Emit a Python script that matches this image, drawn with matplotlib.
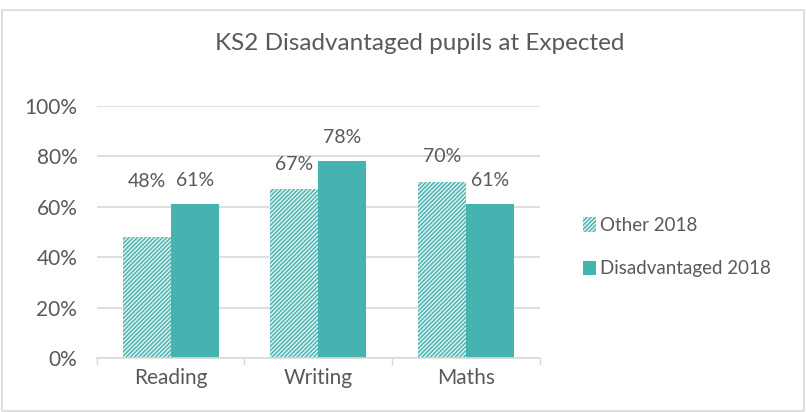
import matplotlib.pyplot as plt
import matplotlib.patches as mpatches
import numpy as np

categories = ["Reading", "Writing", "Maths"]
other_2018 = [48, 67, 70]
disadv_2018 = [61, 78, 61]
series_names = ["Other 2018", "Disadvantaged 2018"]

teal = "#45B3AF"
grey = "#595959"

plt.rcParams['font.family'] = ['Lato', 'DejaVu Sans']
plt.rcParams['hatch.linewidth'] = 1.0

fig = plt.figure(figsize=(8.06, 4.12), dpi=100)
ax = fig.add_axes([0.120, 0.131, 0.550, 0.612])

x = np.arange(len(categories))
w = 0.325
b1 = ax.bar(x - w / 2, other_2018, w, facecolor="#DDF0EF", edgecolor=teal,
            hatch="////////", linewidth=0, label=series_names[0])
b2 = ax.bar(x + w / 2, disadv_2018, w, color=teal, label=series_names[1])

# data labels (first one sits higher, as in the original)
offsets = [40, 18, 18]
for i, v in enumerate(other_2018):
    ax.annotate(f"{v}%", (x[i] - w / 2, v), xytext=(0, offsets[i]),
                textcoords="offset points", ha="center", va="center",
                fontsize=14, color=grey)
for i, v in enumerate(disadv_2018):
    ax.annotate(f"{v}%", (x[i] + w / 2, v), xytext=(0, 17),
                textcoords="offset points", ha="center", va="center",
                fontsize=14, color=grey)

ax.set_ylim(0, 100)
ax.set_xlim(-0.5, 2.5)
ax.set_yticks(range(0, 101, 20))
ax.set_yticklabels([f"{t}%" for t in range(0, 101, 20)])
ax.set_xticks(x)
ax.set_xticklabels(categories)
ax.set_xticks([-0.5, 0.5, 1.5, 2.5], minor=True)
ax.tick_params(axis="x", which="major", length=0, pad=7)
ax.tick_params(axis="x", which="minor", length=5, color="#D9D9D9", width=1)
ax.tick_params(axis="y", length=0, pad=14)
ax.tick_params(labelsize=15, labelcolor=grey)

ax.grid(axis="y", color="#D9D9D9", linewidth=1.2)
ax.set_axisbelow(True)
for s in ["top", "right", "left"]:
    ax.spines[s].set_visible(False)
ax.spines["bottom"].set_color("#D9D9D9")
ax.spines["bottom"].set_linewidth(1.2)

fig.text(0.521, 0.895, "KS2 Disadvantaged pupils at Expected",
         ha="center", va="center", fontsize=17.5, color=grey)

leg = fig.legend(handles=[b1, b2], loc="center left",
                 bbox_to_anchor=(0.702, 0.4), frameon=False,
                 fontsize=13.5, labelcolor=grey, handlelength=0.7,
                 handleheight=0.8, handletextpad=0.2, labelspacing=1.4)

fig.patches.append(mpatches.Rectangle((0.003, 0.002), 0.995, 0.973,
                                      transform=fig.transFigure, fill=False,
                                      edgecolor="#D9D9D9", linewidth=1.2))

fig.savefig("out.png", dpi=100)
